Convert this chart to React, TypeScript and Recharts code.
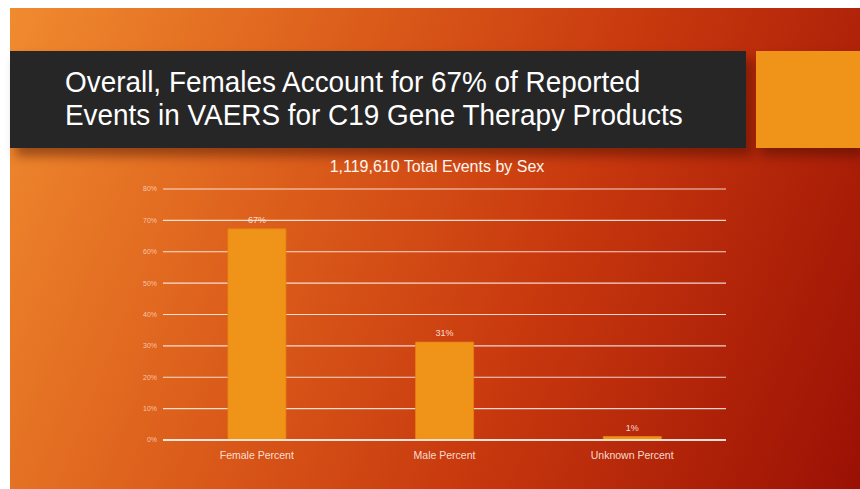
import { Bar, BarChart, CartesianGrid, LabelList, XAxis, YAxis } from 'recharts'

const categories = ['Female Percent', 'Male Percent', 'Unknown Percent']
const percents = [67.3, 31.2, 1.1]
const yTicks = [0, 10, 20, 30, 40, 50, 60, 70, 80]

const data = categories.map((name, i) => ({ name, value: percents[i] }))

const FONT = '"Liberation Sans", Arial, sans-serif'

export default function App() {
  return (
    <div style={{ position: 'relative', width: 860, height: 489, overflow: 'hidden', background: '#fff' }}>
      <style>{'body{margin:0}'}</style>
      {/* slide background */}
      <div
        style={{
          position: 'absolute',
          left: 10,
          top: 8,
          width: 850,
          height: 481,
          background: 'linear-gradient(112deg, #f08b2f 0%, #dc5e1b 33%, #c8380e 62%, #9a1004 100%)',
        }}
      />
      {/* title box */}
      <div
        style={{
          position: 'absolute',
          left: 10,
          top: 51,
          width: 736,
          height: 97,
          background: '#262626',
          boxShadow: '6px 8px 10px rgba(60,10,0,0.45)',
        }}
      >
        <div
          style={{
            position: 'absolute',
            left: 55,
            top: 14,
            whiteSpace: 'nowrap',
            color: '#fff',
            fontFamily: FONT,
            fontSize: 30,
            lineHeight: '33px',
            transform: 'scaleX(0.93)',
            transformOrigin: 'left top',
          }}
        >
          Overall, Females Account for 67% of Reported
          <br />
          Events in VAERS for C19 Gene Therapy Products
        </div>
      </div>
      <div
        style={{
          position: 'absolute',
          left: 756,
          top: 51,
          width: 104,
          height: 97,
          background: '#ef9418',
          boxShadow: '4px 8px 10px rgba(60,10,0,0.45)',
        }}
      />
      {/* chart title */}
      <div
        style={{
          position: 'absolute',
          left: 0,
          width: 874,
          top: 158,
          textAlign: 'center',
          color: '#fff6f0',
          fontFamily: FONT,
          fontSize: 16,
        }}
      >
        1,119,610 Total Events by Sex
      </div>
      <div style={{ position: 'absolute', left: 0, top: 0 }}>
        <BarChart
          width={860}
          height={489}
          data={data}
          margin={{ top: 189, right: 134, bottom: 19, left: 133 }}
          barCategoryGap="34.6%"
        >
          <CartesianGrid vertical={false} stroke="rgba(255,255,255,0.8)" strokeWidth={1.2} />
          <XAxis
            dataKey="name"
            height={30}
            tickLine={false}
            axisLine={{ stroke: '#ffffff', strokeWidth: 1.5 }}
            tick={{ fill: 'rgba(255,235,225,0.92)', fontSize: 10.5, fontFamily: FONT }}
            tickMargin={6}
          />
          <YAxis
            width={30}
            domain={[0, 80]}
            ticks={yTicks}
            interval={0}
            tickSize={0}
            tickMargin={6}
            axisLine={false}
            tickLine={false}
            tickFormatter={(v) => `${v}%`}
            tick={{ fill: 'rgba(255,215,200,0.85)', fontSize: 7, fontFamily: FONT }}
          />
          <Bar dataKey="value" fill="#ef9418" stroke="#e5840f" strokeWidth={0.8} isAnimationActive={false}>
            <LabelList
              dataKey="value"
              position="top"
              offset={6}
              formatter={(v: number) => `${Math.round(v)}%`}
              style={{ fill: 'rgba(255,235,225,0.92)', fontSize: 9, fontFamily: FONT }}
            />
          </Bar>
        </BarChart>
      </div>
    </div>
  )
}
